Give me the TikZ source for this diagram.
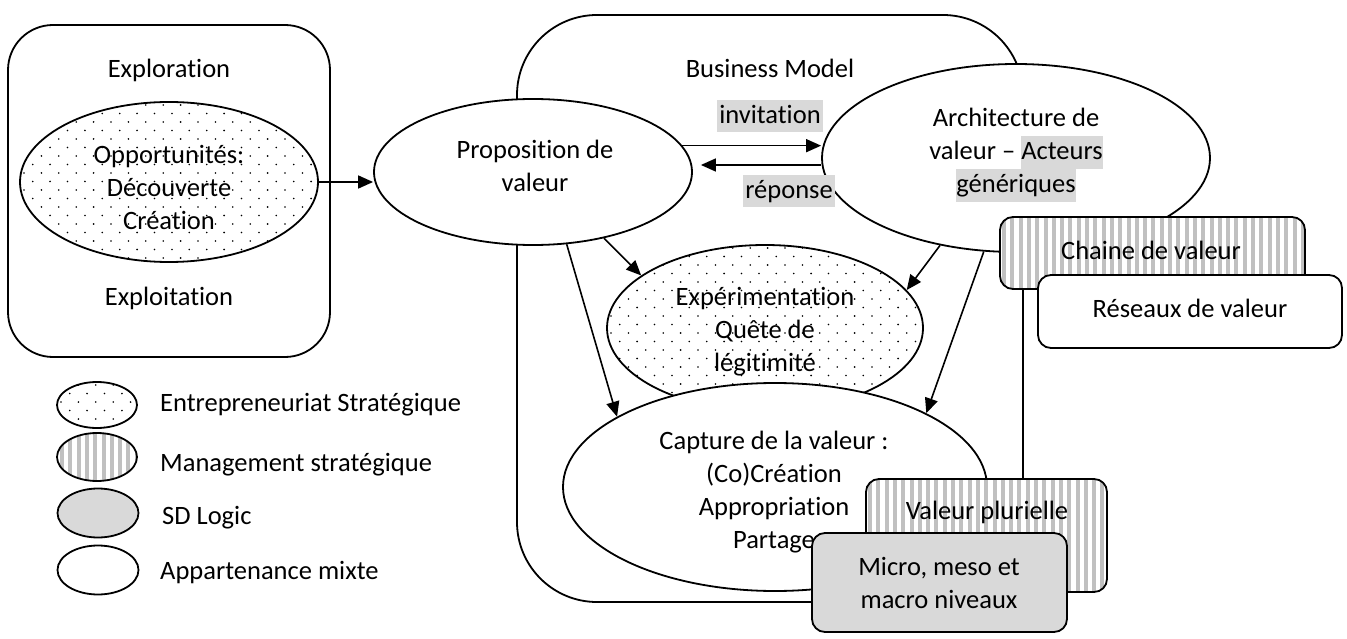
\documentclass[tikz,border=0pt]{standalone}
\usepackage{fontspec}
\setmainfont{Carlito}[Ligatures=NoCommon]
\usetikzlibrary{shapes.geometric,arrows.meta,calc}
\definecolor{hl}{HTML}{D9D9D9}
\definecolor{stripe}{HTML}{C0C0C0}
\newcommand\fsz{\fontsize{26.5pt}{33pt}\selectfont}
\newcommand\hlbox[1]{{\setlength{\fboxsep}{0pt}\colorbox{hl}{\strut #1}}}
\newcommand\dotsin[4]{%
  \begin{scope}
    \clip (#1,#2) ellipse [x radius=#3pt, y radius=#4pt];
    \foreach \j in {0,...,22}{
      \foreach \i in {0,...,20}{
        \fill ({#1-#3+4+\i*17.4+mod(\j,2)*8.7},{#2-#4+3+\j*8.5}) circle[radius=0.9pt];
      }
    }
  \end{scope}}
\newcommand\stripesrect[5]{%
  \begin{scope}
    \clip[rounded corners=#5pt] (#1,#2) rectangle (#3,#4);
    \fill[white] (#1,#2) rectangle (#3,#4);
    \foreach \k in {0,...,40}{
      \fill[stripe] ({#1+2+\k*8.3},#2) rectangle ({#1+6+\k*8.3},#4);
    }
  \end{scope}}
\newcommand\stripesell[4]{%
  \begin{scope}
    \clip (#1,#2) ellipse [x radius=#3pt, y radius=#4pt];
    \fill[white] (#1,#2) ellipse [x radius=#3pt, y radius=#4pt];
    \foreach \k in {0,...,12}{
      \fill[stripe] ({#1-#3+3+\k*8.3},{#2-#4}) rectangle ({#1-#3+7+\k*8.3},{#2+#4});
    }
  \end{scope}}
\begin{document}
\begin{tikzpicture}[x=1pt,y=-1pt,
  every node/.style={font=\fsz, inner sep=0pt},
  ell/.style={draw, line width=1.8pt, ellipse, inner sep=0pt, fill=white},
  rbox/.style={draw, line width=1.8pt, rectangle, rounded corners=13pt, inner sep=0pt},
  arr/.style={line width=1.6pt, -{Triangle[length=15pt,width=13pt]}},
  lbl/.style={fill=hl, inner xsep=2pt, inner ysep=0pt, text height=23pt, text depth=9pt}
]
\useasboundingbox (0,0) rectangle (1347,639);
\fill[white] (0,0) rectangle (1347,639);

% left box
\node[draw, line width=1.8pt, rounded corners=45pt, minimum width=322pt, minimum height=332pt] (lbox) at (169,191) {};
\node (explo) at (169,70) {Exploration};
\node (exploit) at (169,298) {Exploitation};
\node[ell, minimum width=298pt, minimum height=160pt] (opp) at (169,182) {};
\dotsin{169}{182}{149}{80}
\node[align=center] (opptxt) at (169,187) {Opportunités:\\Découverte\\Création};

% business model box
\node[draw, line width=1.8pt, rounded corners=80pt, minimum width=506pt, minimum height=587pt] (bm) at (770,308.5) {};
\node (bmtxt) at (770,68) {Business Model};

\node[ell, minimum width=318pt, minimum height=146pt] (prop) at (533,172) {};
\node[align=center] (proptxt) at (535,166) {Proposition de\\valeur};

\node[ell, minimum width=388pt, minimum height=188pt] (arch) at (1016,158) {};
\node[align=center] (archtxt) at (1016,155) {Architecture de\\valeur – \hlbox{Acteurs}\\\hlbox{génériques}};

\node[ell, minimum width=316pt, minimum height=166pt] (exp) at (765,328) {};
\dotsin{765}{328}{158}{83}
\node[align=center] (exptxt) at (765,332) {Expérimentation\\Quête de\\légitimité};

\node[ell, minimum width=424pt, minimum height=208pt] (cap) at (775,487) {};
\node[align=center] (captxt) at (774,492) {Capture de la valeur :\\(Co)Création\\Appropriation\\Partage};

% arrows
\draw[arr] (opp.east) -- (opp.east -| prop.west);
\draw[arr] (prop.10) -- (prop.10 -| arch.west);
\coordinate (r1) at ($(arch.west)+(0,7)$);
\draw[arr] (r1) -- ($(prop.east |- r1)+(8,0)$);
\draw[arr] (prop.-43) -- (exp.157.6);
\draw[arr] (prop.-65.7) -- (cap.156.7);
\draw[arr] (arch.229.6) -- (exp.15.6);
\draw[arr] (arch.251) -- (cap.26.7);

\node[lbl] (inv) at (770,116.5) {invitation};
\node[lbl] (rep) at (789,191.5) {réponse};

% right boxes
\stripesrect{1000}{217}{1305}{289}{13}
\node[rbox, minimum width=305pt, minimum height=72pt] (chaine) at (1152.5,253) {};
\node (chainetxt) at (1151,250) {Chaine de valeur};
\node[rbox, fill=white, minimum width=304pt, minimum height=73pt] (res) at (1190,311.5) {};
\node (restxt) at (1190,308) {Réseaux de valeur};

\stripesrect{866}{479}{1107}{592}{14}
\node[rbox, minimum width=241pt, minimum height=113pt] (vp) at (986.5,535.5) {};
\node (vptxt) at (987,512) {Valeur plurielle};
\node[rbox, fill=hl, minimum width=255pt, minimum height=99pt] (micro) at (939.5,582.5) {};
\node[align=center] (microtxt) at (939,583) {Micro, meso et\\macro niveaux};

% legend
\node[ell, minimum width=80pt, minimum height=46pt] (l1) at (97,405) {};
\dotsin{97}{405}{40}{23}
\node[anchor=west] (l1t) at (160,405) {Entrepreneuriat Stratégique};
\stripesell{97}{457}{40}{24}
\node[ell, fill=none, minimum width=80pt, minimum height=48pt] (l2) at (97,457) {};
\node[anchor=west] (l2t) at (160,465) {Management stratégique};
\node[ell, fill=hl, minimum width=81pt, minimum height=49pt] (l3) at (98,513) {};
\node[anchor=west] (l3t) at (162,518) {SD Logic};
\node[ell, minimum width=81pt, minimum height=49pt] (l4) at (98,570) {};
\node[anchor=west] (l4t) at (160,573) {Appartenance mixte};
\end{tikzpicture}
\end{document}
